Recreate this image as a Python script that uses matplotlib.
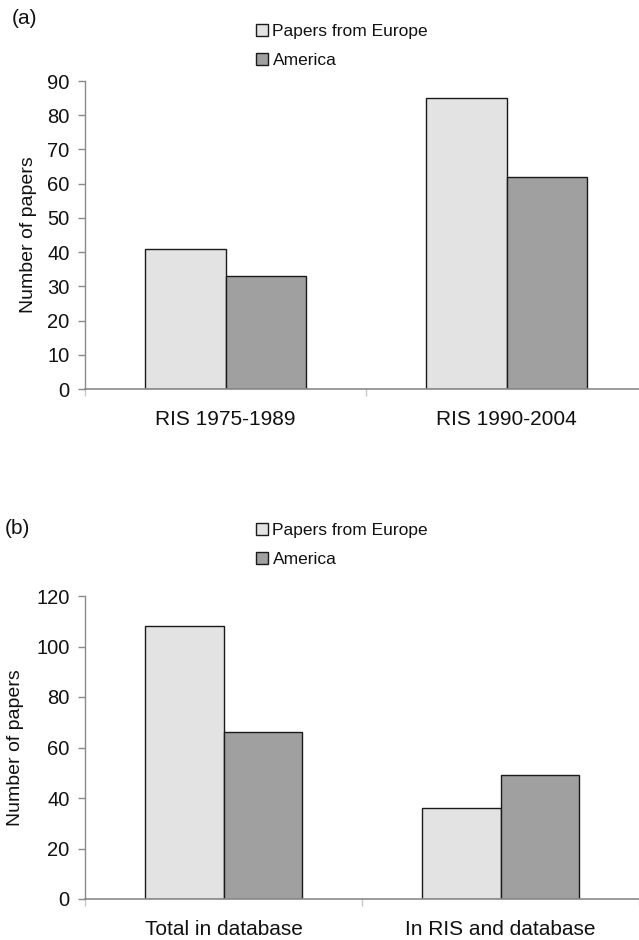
import matplotlib
matplotlib.use("Agg")
import matplotlib.pyplot as plt
import numpy as np

plt.rcParams['font.family'] = ['Liberation Sans', 'DejaVu Sans']

series = ["Papers from Europe", "America"]
cats_a = ["RIS 1975-1989", "RIS 1990-2004"]
europe_a = [41, 85]
america_a = [33, 62]
yticks_a = list(range(0, 91, 10))

cats_b = ["Total in database", "In RIS and database"]
europe_b = [108, 36]
america_b = [66, 49]
yticks_b = list(range(0, 121, 20))

W, H = 639, 940
fig = plt.figure(figsize=(W / 100, H / 100), dpi=100)

c_eu = "#e3e3e3"
c_am = "#a0a0a0"
axis_col = "#8a8a8a"


def px_axes(left, top, right, bottom):
    return fig.add_axes([left / W, 1 - bottom / H, (right - left) / W, (bottom - top) / H])


def panel(ax, cats, eu, am, yticks, ylab_x):
    x = np.arange(len(cats))
    bw = 0.285
    b1 = ax.bar(x - bw / 2, eu, bw, color=c_eu, edgecolor="#1a1a1a", linewidth=1.0, label=series[0])
    b2 = ax.bar(x + bw / 2, am, bw, color=c_am, edgecolor="#1a1a1a", linewidth=1.0, label=series[1])
    ax.set_xlim(-0.5, len(cats) - 0.5)
    ax.set_ylim(yticks[0], yticks[-1])
    ax.set_yticks(yticks)
    ax.tick_params(axis='y', direction='out', length=5, width=1, color=axis_col,
                   labelsize=14.5, pad=6, labelcolor="#111111")
    ax.set_xticks(x)
    ax.set_xticklabels(cats)
    ax.tick_params(axis='x', which='major', length=0, labelsize=15, pad=15, labelcolor="#111111")
    ax.set_xticks(np.arange(-0.5, len(cats), 1.0), minor=True)
    ax.tick_params(axis='x', which='minor', direction='out', length=5, width=1, color="#c8c8c8")
    for s in ["top", "right"]:
        ax.spines[s].set_visible(False)
    ax.spines["left"].set_color(axis_col)
    ax.spines["bottom"].set_color(axis_col)
    ax.spines["left"].set_linewidth(1.0)
    ax.spines["bottom"].set_linewidth(1.2)
    ax.set_ylabel("Number of papers", fontsize=14, color="#111111")
    ax.yaxis.set_label_coords(ylab_x, 0.5)
    return b1, b2


ax_a = px_axes(85, 81, 647, 389)
ha = panel(ax_a, cats_a, europe_a, america_a, yticks_a, -0.085)
ax_b = px_axes(85, 596, 639, 899)
hb = panel(ax_b, cats_b, europe_b, america_b, yticks_b, -0.110)

leg_kw = dict(frameon=False, fontsize=12.5, handlelength=0.7, handleheight=0.7,
              handletextpad=0.25, labelspacing=0.8, borderpad=0, borderaxespad=0,
              loc="upper left")
for ax, h, top in [(ax_a, ha, 24), (ax_b, hb, 523)]:
    leg = ax.legend(handles=list(h), bbox_to_anchor=(256 / W, 1 - top / H),
                    bbox_transform=fig.transFigure, **leg_kw)
    for t in leg.get_texts():
        t.set_color("#111111")

fig.text(12 / W, 1 - 19 / H, "(a)", fontsize=15, va="center", ha="left", color="#111111")
fig.text(5 / W, 1 - 528 / H, "(b)", fontsize=15, va="center", ha="left", color="#111111")

fig.savefig("out.png", dpi=100)
